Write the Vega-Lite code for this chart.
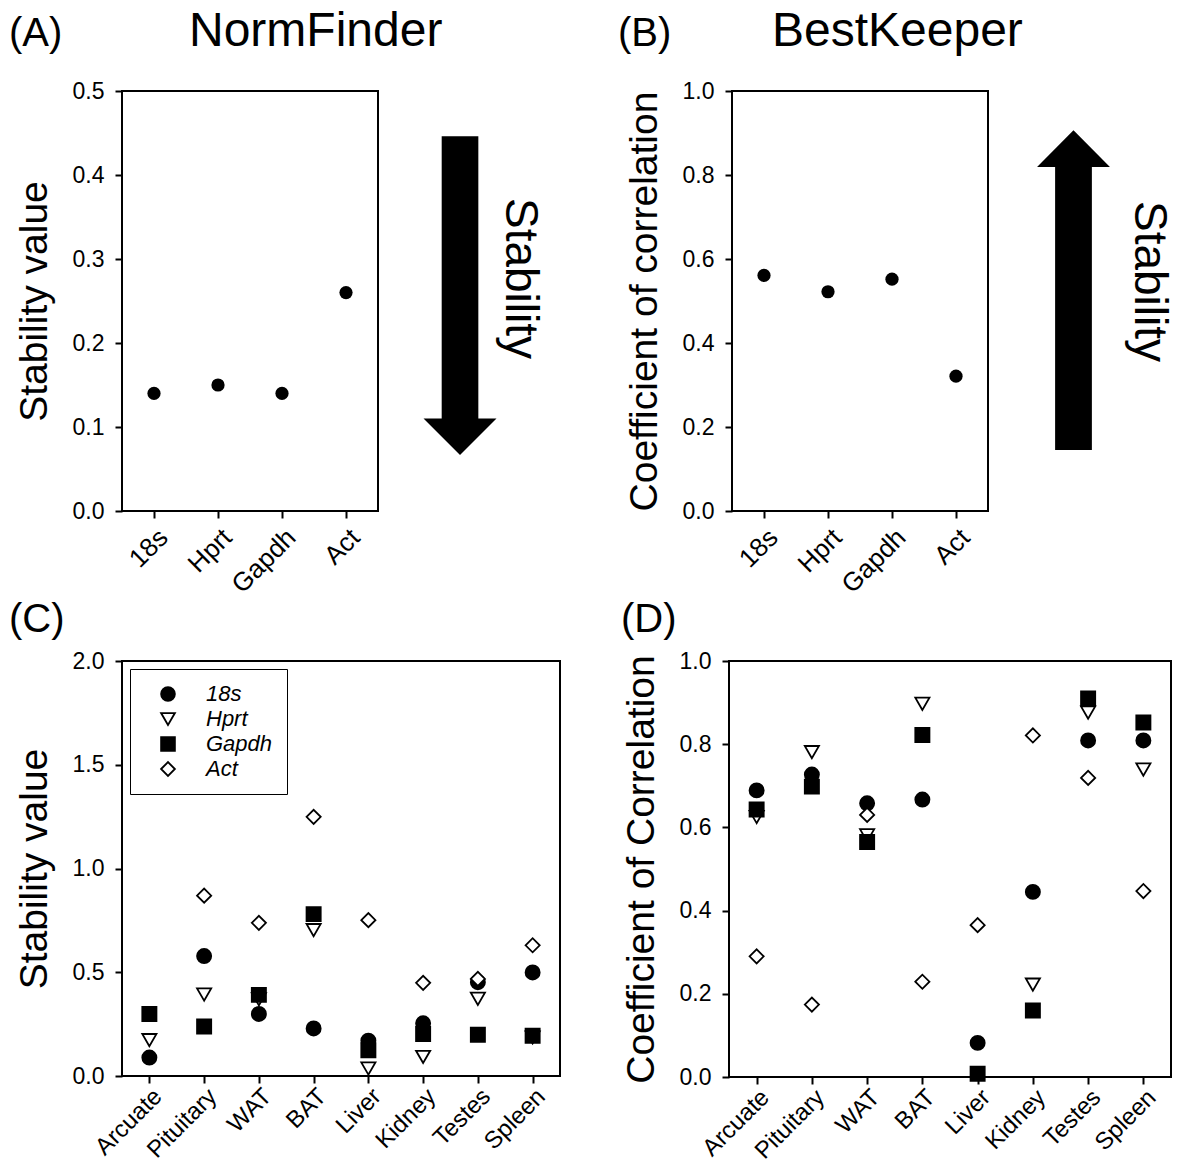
{
  "$schema": "https://vega.github.io/schema/vega-lite/v6.json",
  "padding": {"left": 8, "top": 8, "right": 0, "bottom": 0},
  "background": "white",
  "datasets": {
    "nf": [
      {"gene": "18s", "value": 0.14},
      {"gene": "Hprt", "value": 0.15},
      {"gene": "Gapdh", "value": 0.14},
      {"gene": "Act", "value": 0.26}
    ],
    "bk": [
      {"gene": "18s", "value": 0.561},
      {"gene": "Hprt", "value": 0.522},
      {"gene": "Gapdh", "value": 0.552},
      {"gene": "Act", "value": 0.321}
    ],
    "tc": [
      {"tissue": "Arcuate", "gene": "18s", "value": 0.089},
      {"tissue": "Arcuate", "gene": "Hprt", "value": 0.173},
      {"tissue": "Arcuate", "gene": "Gapdh", "value": 0.299},
      {"tissue": "Pituitary", "gene": "18s", "value": 0.578},
      {"tissue": "Pituitary", "gene": "Hprt", "value": 0.393},
      {"tissue": "Pituitary", "gene": "Gapdh", "value": 0.239},
      {"tissue": "Pituitary", "gene": "Act", "value": 0.869},
      {"tissue": "WAT", "gene": "18s", "value": 0.299},
      {"tissue": "WAT", "gene": "Hprt", "value": 0.37},
      {"tissue": "WAT", "gene": "Gapdh", "value": 0.391},
      {"tissue": "WAT", "gene": "Act", "value": 0.738},
      {"tissue": "BAT", "gene": "18s", "value": 0.229},
      {"tissue": "BAT", "gene": "Hprt", "value": 0.703},
      {"tissue": "BAT", "gene": "Gapdh", "value": 0.78},
      {"tissue": "BAT", "gene": "Act", "value": 1.249},
      {"tissue": "Liver", "gene": "18s", "value": 0.17},
      {"tissue": "Liver", "gene": "Hprt", "value": 0.036},
      {"tissue": "Liver", "gene": "Gapdh", "value": 0.124},
      {"tissue": "Liver", "gene": "Act", "value": 0.751},
      {"tissue": "Kidney", "gene": "18s", "value": 0.254},
      {"tissue": "Kidney", "gene": "Hprt", "value": 0.092},
      {"tissue": "Kidney", "gene": "Gapdh", "value": 0.202},
      {"tissue": "Kidney", "gene": "Act", "value": 0.449},
      {"tissue": "Testes", "gene": "18s", "value": 0.452},
      {"tissue": "Testes", "gene": "Hprt", "value": 0.372},
      {"tissue": "Testes", "gene": "Gapdh", "value": 0.199},
      {"tissue": "Testes", "gene": "Act", "value": 0.468},
      {"tissue": "Spleen", "gene": "18s", "value": 0.499},
      {"tissue": "Spleen", "gene": "Hprt", "value": 0.186},
      {"tissue": "Spleen", "gene": "Gapdh", "value": 0.194},
      {"tissue": "Spleen", "gene": "Act", "value": 0.63}
    ],
    "td": [
      {"tissue": "Arcuate", "gene": "18s", "value": 0.689},
      {"tissue": "Arcuate", "gene": "Hprt", "value": 0.625},
      {"tissue": "Arcuate", "gene": "Gapdh", "value": 0.643},
      {"tissue": "Arcuate", "gene": "Act", "value": 0.29},
      {"tissue": "Pituitary", "gene": "18s", "value": 0.727},
      {"tissue": "Pituitary", "gene": "Hprt", "value": 0.781},
      {"tissue": "Pituitary", "gene": "Gapdh", "value": 0.698},
      {"tissue": "Pituitary", "gene": "Act", "value": 0.174},
      {"tissue": "WAT", "gene": "18s", "value": 0.658},
      {"tissue": "WAT", "gene": "Hprt", "value": 0.581},
      {"tissue": "WAT", "gene": "Gapdh", "value": 0.565},
      {"tissue": "WAT", "gene": "Act", "value": 0.63},
      {"tissue": "BAT", "gene": "18s", "value": 0.667},
      {"tissue": "BAT", "gene": "Hprt", "value": 0.897},
      {"tissue": "BAT", "gene": "Gapdh", "value": 0.822},
      {"tissue": "BAT", "gene": "Act", "value": 0.229},
      {"tissue": "Liver", "gene": "18s", "value": 0.082},
      {"tissue": "Liver", "gene": "Gapdh", "value": 0.008},
      {"tissue": "Liver", "gene": "Act", "value": 0.365},
      {"tissue": "Kidney", "gene": "18s", "value": 0.445},
      {"tissue": "Kidney", "gene": "Hprt", "value": 0.222},
      {"tissue": "Kidney", "gene": "Gapdh", "value": 0.16},
      {"tissue": "Kidney", "gene": "Act", "value": 0.821},
      {"tissue": "Testes", "gene": "18s", "value": 0.809},
      {"tissue": "Testes", "gene": "Hprt", "value": 0.876},
      {"tissue": "Testes", "gene": "Gapdh", "value": 0.91},
      {"tissue": "Testes", "gene": "Act", "value": 0.719},
      {"tissue": "Spleen", "gene": "18s", "value": 0.809},
      {"tissue": "Spleen", "gene": "Hprt", "value": 0.739},
      {"tissue": "Spleen", "gene": "Gapdh", "value": 0.852},
      {"tissue": "Spleen", "gene": "Act", "value": 0.447}
    ]
  },
  "bounds": "full",
  "spacing": 0,
  "resolve": {"scale": {"shape": "independent", "fill": "independent", "stroke": "independent"}, "legend": {"shape": "independent", "fill": "independent", "stroke": "independent"}},
  "vconcat": [
    {
      "bounds": "flush",
      "spacing": 23,
      "hconcat": [
        {
          "width": 256,
          "height": 420,
          "data": {"name": "nf"},
          "title": {"text": "(A)", "dx": -113, "offset": 26, "fontSize": 40},
          "mark": {"type": "point", "filled": true, "color": "black", "size": 175, "opacity": 1},
          "encoding": {
            "x": {"field": "gene", "type": "nominal", "sort": null, "axis": {"title": null}},
            "y": {"field": "value", "type": "quantitative", "scale": {"domain": [0, 0.5], "nice": false},
                  "axis": {"title": "Stability value", "values": [0, 0.1, 0.2, 0.3, 0.4, 0.5], "format": ".1f"}}
          }
        },
        {
          "width": 308,
          "height": 420,
          "view": {"stroke": null},
          "data": {"values": [{"label": "Stability"}]},
          "title": {"text": "NormFinder", "dx": -212, "offset": 35, "fontSize": 48},
          "layer": [
            {
              "mark": {"type": "point", "shape": "M -0.115 -1 L 0.115 -1 L 0.115 0.772 L 0.229 0.772 L 0 1 L -0.229 0.772 L -0.115 0.772 Z",
                       "size": 101570, "filled": true, "color": "black", "opacity": 1},
              "encoding": {
                "x": {"datum": 0.1916, "type": "quantitative", "scale": {"domain": [0, 1], "nice": false}, "axis": null},
                "y": {"datum": 0.513, "type": "quantitative", "scale": {"domain": [0, 1], "nice": false}, "axis": null}
              }
            },
            {
              "mark": {"type": "text", "angle": 90, "fontSize": 46, "color": "black", "align": "center", "baseline": "middle"},
              "encoding": {
                "x": {"datum": 0.386, "type": "quantitative", "axis": null},
                "y": {"datum": 0.5536, "type": "quantitative", "axis": null},
                "text": {"field": "label"}
              }
            }
          ]
        },
        {
          "width": 256,
          "height": 420,
          "data": {"name": "bk"},
          "title": {"text": "(B)", "dx": -114, "offset": 26, "fontSize": 40},
          "mark": {"type": "point", "filled": true, "color": "black", "size": 175, "opacity": 1},
          "encoding": {
            "x": {"field": "gene", "type": "nominal", "sort": null, "axis": {"title": null}},
            "y": {"field": "value", "type": "quantitative", "scale": {"domain": [0, 1], "nice": false},
                  "axis": {"title": "Coefficient of correlation", "values": [0, 0.2, 0.4, 0.6, 0.8, 1.0], "format": ".1f"}}
          }
        },
        {
          "width": 175,
          "height": 420,
          "view": {"stroke": null},
          "data": {"values": [{"label": "Stability"}]},
          "title": {"text": "BestKeeper", "dx": -239, "offset": 35, "fontSize": 48},
          "layer": [
            {
              "mark": {"type": "point", "shape": "M -0.115 1 L 0.115 1 L 0.115 -0.77 L 0.228 -0.77 L 0 -1 L -0.228 -0.77 L -0.115 -0.77 Z",
                       "size": 102208, "filled": true, "color": "black", "opacity": 1},
              "encoding": {
                "x": {"datum": 0.3571, "type": "quantitative", "scale": {"domain": [0, 1], "nice": false}, "axis": null},
                "y": {"datum": 0.526, "type": "quantitative", "scale": {"domain": [0, 1], "nice": false}, "axis": null}
              }
            },
            {
              "mark": {"type": "text", "angle": 90, "fontSize": 46, "color": "black", "align": "center", "baseline": "middle"},
              "encoding": {
                "x": {"datum": 0.7886, "type": "quantitative", "axis": null},
                "y": {"datum": 0.5464, "type": "quantitative", "axis": null},
                "text": {"field": "label"}
              }
            }
          ]
        }
      ]
    },
    {
      "bounds": "flush",
      "spacing": 169,
      "resolve": {"scale": {"shape": "independent", "fill": "independent", "stroke": "independent"}, "legend": {"shape": "independent", "fill": "independent", "stroke": "independent"}},
      "hconcat": [
        {
          "width": 438,
          "height": 415,
          "data": {"name": "tc"},
          "title": {"text": "(C)", "dx": -113, "offset": 10, "fontSize": 40},
          "mark": {"type": "point", "size": 200, "strokeWidth": 1.8, "opacity": 1},
          "encoding": {
            "x": {"field": "tissue", "type": "nominal", "sort": ["Arcuate", "Pituitary", "WAT", "BAT", "Liver", "Kidney", "Testes", "Spleen"],
                  "axis": {"title": null, "labelFontSize": 24, "labelPadding": 1}},
            "y": {"field": "value", "type": "quantitative", "scale": {"domain": [0, 2], "nice": false},
                  "axis": {"title": "Stability value", "values": [0, 0.5, 1, 1.5, 2], "format": ".1f"}},
            "shape": {"field": "gene", "type": "nominal",
                      "scale": {"domain": ["18s", "Hprt", "Gapdh", "Act"], "range": ["circle", "triangle-down", "square", "diamond"]},
                      "legend": {"title": null, "orient": "top-left", "offset": 8, "padding": 14, "strokeColor": "black",
                                 "symbolOffset": 13, "labelOffset": 27, "labelFontSize": 22, "labelFontStyle": "italic", "labelColor": "black",
                                 "rowPadding": 3, "symbolSize": 190, "symbolStrokeWidth": 1.8,
                                 "labelExpr": "datum.label + '   '",
                                 "encode": {"legend": {"update": {"strokeWidth": {"value": 2}}}}}},
            "fill": {"field": "gene", "type": "nominal",
                     "scale": {"domain": ["18s", "Hprt", "Gapdh", "Act"], "range": ["black", "white", "black", "white"]},
                     "legend": {"title": null, "orient": "top-left", "offset": 8, "padding": 14, "strokeColor": "black",
                                "symbolOffset": 13, "labelOffset": 27, "labelFontSize": 22, "labelFontStyle": "italic", "labelColor": "black",
                                "rowPadding": 3, "symbolSize": 190, "symbolStrokeWidth": 1.8,
                                "labelExpr": "datum.label + '   '",
                                "encode": {"legend": {"update": {"strokeWidth": {"value": 2}}}}}},
            "stroke": {"field": "gene", "type": "nominal",
                       "scale": {"domain": ["18s", "Hprt", "Gapdh", "Act"], "range": ["black", "black", "black", "black"]},
                       "legend": {"title": null, "orient": "top-left", "offset": 8, "padding": 14, "strokeColor": "black",
                                  "symbolOffset": 13, "labelOffset": 27, "labelFontSize": 22, "labelFontStyle": "italic", "labelColor": "black",
                                  "rowPadding": 3, "symbolSize": 190, "symbolStrokeWidth": 1.8,
                                  "labelExpr": "datum.label + '   '",
                                  "encode": {"legend": {"update": {"strokeWidth": {"value": 2}}}}}}
          }
        },
        {
          "width": 442,
          "height": 416,
          "data": {"name": "td"},
          "title": {"text": "(D)", "dx": -108, "offset": 10, "fontSize": 40},
          "mark": {"type": "point", "size": 200, "stroke": "black", "strokeWidth": 1.8, "opacity": 1},
          "encoding": {
            "x": {"field": "tissue", "type": "nominal", "sort": ["Arcuate", "Pituitary", "WAT", "BAT", "Liver", "Kidney", "Testes", "Spleen"],
                  "axis": {"title": null, "labelFontSize": 24, "labelPadding": 1}},
            "y": {"field": "value", "type": "quantitative", "scale": {"domain": [0, 1], "nice": false},
                  "axis": {"title": "Coefficient of Correlation", "values": [0, 0.2, 0.4, 0.6, 0.8, 1.0], "format": ".1f"}},
            "shape": {"field": "gene", "type": "nominal",
                      "scale": {"domain": ["18s", "Hprt", "Gapdh", "Act"], "range": ["circle", "triangle-down", "square", "diamond"]},
                      "legend": null},
            "fill": {"field": "gene", "type": "nominal",
                     "scale": {"domain": ["18s", "Hprt", "Gapdh", "Act"], "range": ["black", "white", "black", "white"]},
                     "legend": null}
          }
        }
      ]
    }
  ],
  "config": {
    "font": "Liberation Sans",
    "view": {"stroke": "black", "strokeWidth": 2},
    "title": {"font": "Liberation Sans", "fontWeight": "normal", "color": "black", "anchor": "start", "frame": "group"},
    "axis": {
      "domain": false, "grid": false,
      "tickColor": "black", "tickWidth": 2, "tickSize": 7,
      "labelColor": "black", "labelFont": "Liberation Sans", "labelFontSize": 23, "labelPadding": 11,
      "titleColor": "black", "titleFont": "Liberation Sans", "titleFontSize": 39, "titleFontWeight": "normal", "titlePadding": 18
    },
    "axisX": {"labelAngle": -45, "labelFontSize": 26, "labelPadding": 6},
    "legend": {"labelFont": "Liberation Sans"}
  }
}
